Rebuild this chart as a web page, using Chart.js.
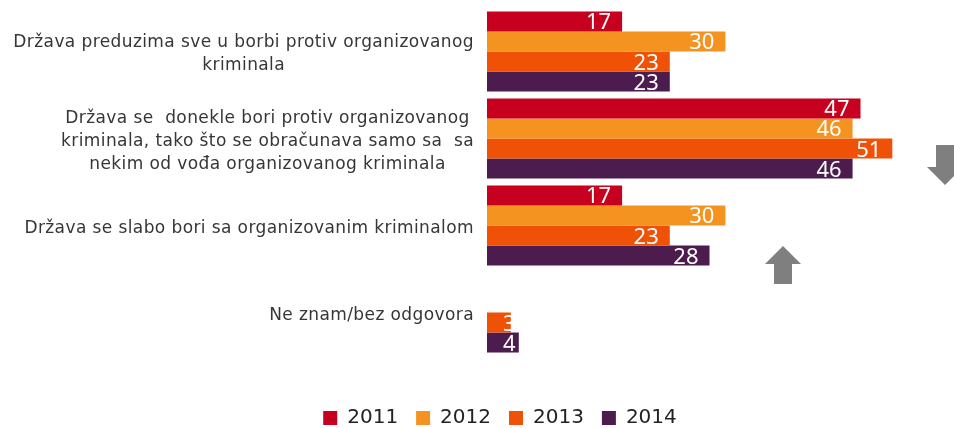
<!DOCTYPE html>
<html>
<head>
<meta charset="utf-8">
<script src="https://cdn.jsdelivr.net/npm/chart.js@4"></script>
<style>
html, body { margin:0; padding:0; background:#fff; overflow:hidden; }
</style>
</head>
<body>
<canvas id="chart" width="954" height="428"></canvas>
<script>
// categories (drawn by hand, lines centred inside a right-aligned block)
const categories = [
    ['Država preduzima sve u borbi protiv organizovanog', 'kriminala'],
    ['Država se  donekle bori protiv organizovanog', 'kriminala, tako što se obračunava samo sa  sa', 'nekim od vođa organizovanog kriminala'],
    ['Država se slabo bori sa organizovanim kriminalom'],
    ['Ne znam/bez odgovora']
];
const years = ['2011', '2012', '2013', '2014'];
const values2011 = [17, 47, 17, null];
const values2012 = [30, 46, 30, null];
const values2013 = [23, 51, 23, 3];
const values2014 = [23, 46, 28, 4];
const colors = ['#c6001e', '#f49320', '#ef5107', '#4c1c4f'];

// trend arrows (decoration)
const arrows = [
    {dir: 'down', x: 945, top: 145},
    {dir: 'up', x: 783, top: 246}
];

const categoryLabels = {
    id: 'categoryLabels',
    afterDraw(chart){
        const ctx = chart.ctx;
        const y = chart.scales.y;
        const right = chart.chartArea.left - 13;
        const lh = 23;
        ctx.save();
        ctx.font = '17px "DejaVu Sans"';
        ctx.letterSpacing = '0.4px';
        ctx.fillStyle = '#363636';
        ctx.textAlign = 'center';
        ctx.textBaseline = 'middle';
        categories.forEach((lines, i) => {
            const w = Math.max(...lines.map(l => ctx.measureText(l).width));
            const cx = right - w / 2;
            const cy = y.getPixelForTick(i) + 3;
            lines.forEach((l, j) => {
                ctx.fillText(l, cx, cy + (j - (lines.length - 1) / 2) * lh);
            });
        });
        ctx.restore();
    }
};

const valueLabels = {
    id: 'valueLabels',
    afterDatasetsDraw(chart){
        const ctx = chart.ctx;
        ctx.save();
        ctx.font = '22px "Noto Sans"';
        ctx.fillStyle = '#fff';
        ctx.textAlign = 'left';
        ctx.textBaseline = 'alphabetic';
        chart.data.datasets.forEach((ds, d) => {
            chart.getDatasetMeta(d).data.forEach((bar, i) => {
                const v = ds.data[i];
                if(v === null) return;
                const txt = String(v);
                const w = ctx.measureText(txt).width;
                //short bars: label sticks out past the end
                const x = Math.max(bar.x - 11 - w, bar.base + 16);
                ctx.fillText(txt, x, bar.y + 8);
            });
        });
        ctx.restore();
    }
};

const trendArrows = {
    id: 'trendArrows',
    afterDraw(chart){
        const ctx = chart.ctx;
        const h = 38, head = 18, shaft = 9, headLen = 18;
        ctx.save();
        ctx.fillStyle = '#7f7f7f';
        arrows.forEach(a => {
            ctx.beginPath();
            if(a.dir === 'up'){
                const t = a.top, b = a.top + h;
                ctx.moveTo(a.x, t);
                ctx.lineTo(a.x + head, t + headLen);
                ctx.lineTo(a.x + shaft, t + headLen);
                ctx.lineTo(a.x + shaft, b);
                ctx.lineTo(a.x - shaft, b);
                ctx.lineTo(a.x - shaft, t + headLen);
                ctx.lineTo(a.x - head, t + headLen);
            }else{
                const t = a.top, b = a.top + h + 2;
                ctx.moveTo(a.x - shaft, t);
                ctx.lineTo(a.x + shaft, t);
                ctx.lineTo(a.x + shaft, b - headLen);
                ctx.lineTo(a.x + head, b - headLen);
                ctx.lineTo(a.x, b);
                ctx.lineTo(a.x - head, b - headLen);
                ctx.lineTo(a.x - shaft, b - headLen);
            }
            ctx.closePath();
            ctx.fill();
        });
        ctx.restore();
    }
};

const series = [values2011, values2012, values2013, values2014];

new Chart(document.getElementById('chart'), {
    type: 'bar',
    data: {
        labels: categories,
        datasets: series.map((s, i) => ({
            label: years[i],
            data: s,
            backgroundColor: colors[i],
            borderWidth: 0,
            categoryPercentage: 0.92,
            barPercentage: 1
        }))
    },
    options: {
        indexAxis: 'y',
        responsive: false,
        animation: false,
        devicePixelRatio: 1,
        layout: {padding: {left: 60, right: 14, top: 8, bottom: -10}},
        scales: {
            x: {
                display: true,
                min: 0,
                max: 57,
                ticks: {display: false},
                grid: {display: false},
                border: {display: false},
                afterFit: s => { s.height = 34; }
            },
            y: {
                display: true,
                ticks: {display: false},
                grid: {display: false},
                border: {display: false},
                afterFit: s => { s.width = 427; }
            }
        },
        plugins: {
            legend: {
                position: 'bottom',
                labels: {
                    boxWidth: 14,
                    boxHeight: 14,
                    padding: 18,
                    color: '#222',
                    font: {family: 'DejaVu Sans', size: 20}
                }
            },
            tooltip: {enabled: false}
        }
    },
    plugins: [categoryLabels, valueLabels, trendArrows]
});
</script>
</body>
</html>
